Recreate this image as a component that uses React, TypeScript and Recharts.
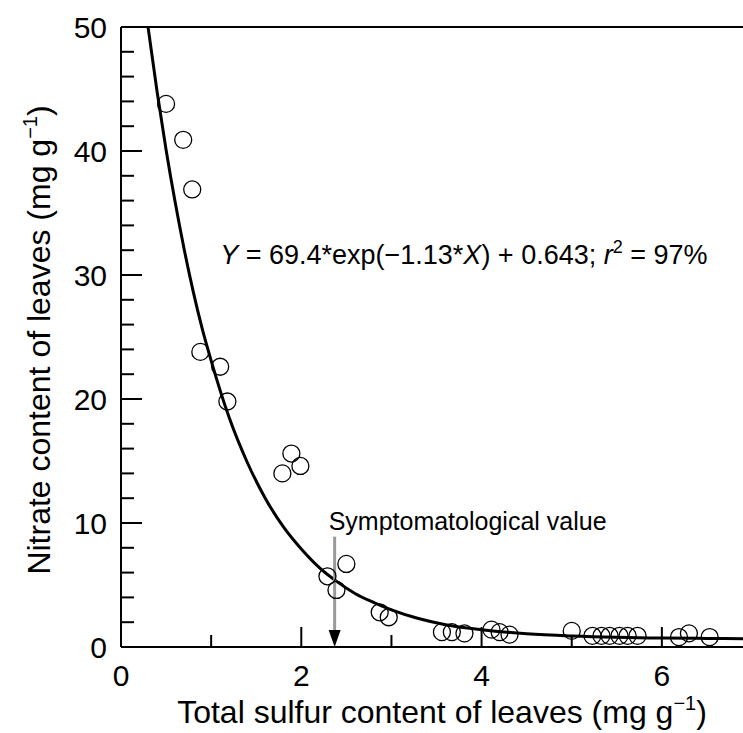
import { ComposedChart, Scatter, Line, XAxis, YAxis, ReferenceLine, ReferenceDot } from "recharts";

// observed leaf samples
const sulfur = [0.5, 0.69, 0.79, 0.88, 1.1, 1.18, 1.79, 1.89, 1.99, 2.29, 2.39, 2.5, 2.87, 2.97, 3.56, 3.67, 3.81, 4.11, 4.2, 4.31, 5.0, 5.23, 5.33, 5.42, 5.53, 5.62, 5.73, 6.19, 6.3, 6.53];
const nitrate = [43.8, 40.9, 36.9, 23.8, 22.6, 19.8, 14.0, 15.6, 14.6, 5.7, 4.6, 6.7, 2.8, 2.4, 1.2, 1.2, 1.1, 1.4, 1.2, 1.0, 1.3, 0.9, 0.9, 0.9, 0.9, 0.9, 0.9, 0.8, 1.1, 0.8];

// fitted curve
const curveX = [0.3, 0.4, 0.5, 0.6, 0.7, 0.8, 0.9, 1.0, 1.2, 1.4, 1.6, 1.8, 2.0, 2.2, 2.4, 2.6, 2.8, 3.0, 3.3, 3.6, 4.0, 4.5, 5.0, 5.5, 6.0, 6.5, 6.9];
const curveY = [50.0, 44.8, 40.1, 35.9, 32.1, 28.7, 25.7, 23.1, 18.5, 14.9, 12.0, 9.7, 7.9, 6.4, 5.25, 4.3, 3.6, 3.0, 2.3, 1.8, 1.4, 1.07, 0.89, 0.78, 0.72, 0.69, 0.67];

const xTicks = [0, 1, 2, 3, 4, 5, 6];
const yTicks = [0, 2, 4, 6, 8, 10, 12, 14, 16, 18, 20, 22, 24, 26, 28, 30, 32, 34, 36, 38, 40, 42, 44, 46, 48, 50];

const symptomX = 2.37;
const arrowTop = 8.9;

const points = sulfur.map((x, i) => ({ x, y: nitrate[i] }));
const curve = curveX.map((x, i) => ({ x, y: curveY[i] }));

const FONT = "'Liberation Sans', Arial, Helvetica, sans-serif";

const XTick = (props: any) => {
  const { x, y, payload } = props;
  const major = payload.value % 2 === 0;
  return (
    <g>
      <line x1={x} x2={x} y1={y} y2={y - (major ? 20 : 12)} stroke="#000" strokeWidth={2} />
      {major && (
        <text x={x} y={y + 39} textAnchor="middle" fontSize={30} fontFamily={FONT} fill="#000">
          {payload.value}
        </text>
      )}
    </g>
  );
};

const YTick = (props: any) => {
  const { x, y, payload } = props;
  const major = payload.value % 10 === 0;
  return (
    <g>
      <line x1={x} x2={x + (major ? 21 : 13)} y1={y} y2={y} stroke="#000" strokeWidth={2} />
      {major && (
        <text x={x - 14} y={y + 11} textAnchor="end" fontSize={30} fontFamily={FONT} fill="#000">
          {payload.value}
        </text>
      )}
    </g>
  );
};

const XTitle = (props: any) => {
  const vb = props.viewBox;
  return (
    <text x={vb.x + vb.width / 2 + 10} y={vb.y + 76} textAnchor="middle" fontSize={32} fontFamily={FONT} fill="#000">
      Total sulfur content of leaves (mg g
      <tspan dy={-13} fontSize={20}>−1</tspan>
      <tspan dy={13}>)</tspan>
    </text>
  );
};

const YTitle = (props: any) => {
  const vb = props.viewBox;
  const cx = 50;
  const cy = vb.y + vb.height / 2 + 3;
  return (
    <text x={cx} y={cy} transform={`rotate(-90 ${cx} ${cy})`} textAnchor="middle" fontSize={32} fontFamily={FONT} fill="#000">
      Nitrate content of leaves (mg g
      <tspan dy={-13} fontSize={20}>−1</tspan>
      <tspan dy={13}>)</tspan>
    </text>
  );
};

const Arrow = (props: any) => {
  const { x1, y1, y2 } = props;
  const top = Math.min(y1, y2);
  const bottom = Math.max(y1, y2);
  return (
    <g>
      <line x1={x1} x2={x1} y1={top} y2={bottom - 14} stroke="#9a9a9a" strokeWidth={3} />
      <polygon points={`${x1 - 6},${bottom - 17} ${x1 + 6},${bottom - 17} ${x1},${bottom}`} fill="#000" />
      <text x={x1 - 6} y={top - 7} fontSize={25} fontFamily={FONT} fill="#000">
        Symptomatological value
      </text>
    </g>
  );
};

const Equation = (props: any) => {
  const { cx, cy } = props;
  return (
    <text x={cx} y={cy} fontSize={27} fontFamily={FONT} fill="#000">
      <tspan fontStyle="italic">Y</tspan>
      {" = 69.4*exp(−1.13*"}
      <tspan fontStyle="italic">X</tspan>
      {") + 0.643; "}
      <tspan fontStyle="italic">r</tspan>
      <tspan dy={-11} fontSize={18}>2</tspan>
      <tspan dy={11}>{" = 97%"}</tspan>
    </text>
  );
};

export default function App() {
  return (
    <div style={{ position: "absolute", left: 0, top: 0, background: "#fff" }}>
      <ComposedChart width={743} height={733} margin={{ top: 27, right: 0, bottom: 0, left: 0 }}>
        <XAxis
          dataKey="x"
          type="number"
          domain={[0, 6.9]}
          allowDataOverflow
          ticks={xTicks}
          interval={0}
          tick={<XTick />}
          tickLine={false}
          tickSize={0}
          tickMargin={0}
          height={86}
          axisLine={{ stroke: "#000", strokeWidth: 2 }}
          label={{ content: <XTitle /> }}
        />
        <YAxis
          dataKey="y"
          type="number"
          domain={[0, 50]}
          allowDataOverflow
          ticks={yTicks}
          interval={0}
          tick={<YTick />}
          tickLine={false}
          tickSize={0}
          tickMargin={0}
          width={121}
          axisLine={{ stroke: "#000", strokeWidth: 2 }}
          label={{ content: <YTitle /> }}
        />
        <ReferenceLine y={50} stroke="#000" strokeWidth={2} />
        <Line
          data={curve}
          dataKey="y"
          type="monotone"
          stroke="#000"
          strokeWidth={3}
          dot={false}
          activeDot={false}
          isAnimationActive={false}
        />
        <Scatter
          data={points}
          dataKey="y"
          isAnimationActive={false}
          shape={(p: any) => <circle cx={p.cx} cy={p.cy} r={8.5} fill="none" stroke="#000" strokeWidth={1.3} />}
        />
        <ReferenceLine
          segment={[
            { x: symptomX, y: arrowTop },
            { x: symptomX, y: 0 },
          ]}
          shape={<Arrow />}
        />
        <ReferenceDot x={1.1} y={30.9} shape={<Equation />} />
      </ComposedChart>
    </div>
  );
}
